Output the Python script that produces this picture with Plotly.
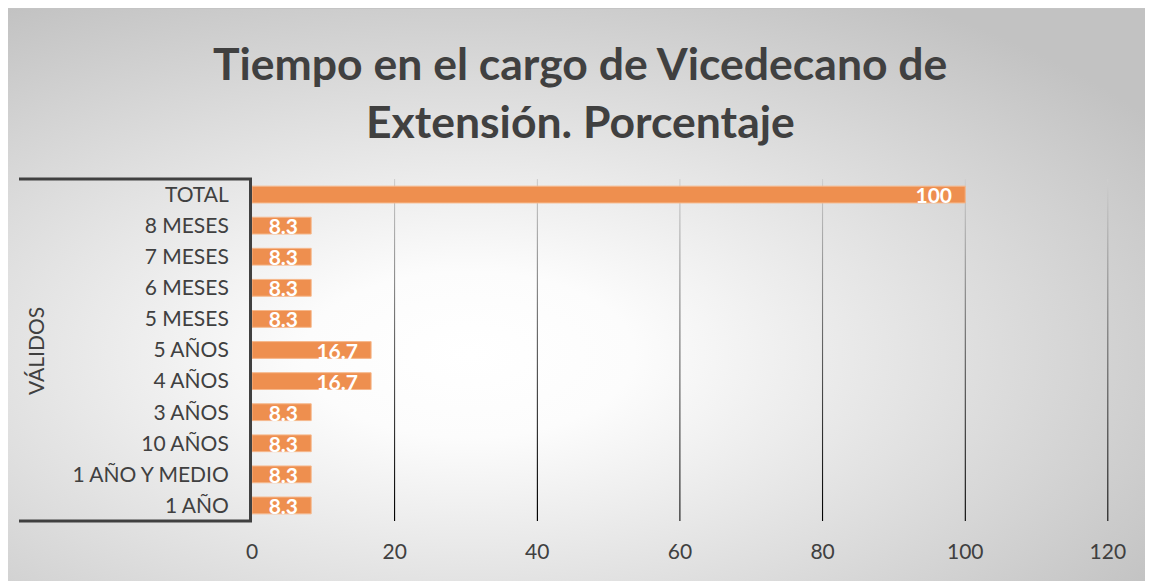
import base64
import plotly.graph_objects as go

# ---- data ----
categories = ["1 AÑO", "1 AÑO Y MEDIO", "10 AÑOS", "3 AÑOS", "4 AÑOS", "5 AÑOS",
              "5 MESES", "6 MESES", "7 MESES", "8 MESES", "TOTAL"]
values = [8.3, 8.3, 8.3, 8.3, 16.7, 16.7, 8.3, 8.3, 8.3, 8.3, 100]
value_labels = ["8.3", "8.3", "8.3", "8.3", "16.7", "16.7", "8.3", "8.3", "8.3", "8.3", "100"]
x_ticks = [0, 20, 40, 60, 80, 100, 120]
group_label = "VÁLIDOS"
title_lines = ["Tiempo en el cargo de Vicedecano de", "Extensión. Porcentaje"]

# ---- geometry (page offset of 8px from body margin) ----
OFF = 8
FW, FH = 1153 - OFF, 581 - OFF
L, T = 252 - OFF, 179 - OFF
B = FH - (521 - OFF)
XMAX = 121
PW = round(856 * XMAX / 120)
R = FW - L - PW
PH = FH - T - B

def px_x(px):
    return (px - OFF - L) / PW

def px_y(py):
    return (FH - B - (py - OFF)) / PH

TXT = "#404040"
FONT = "Lato"
EDGE = "#c4c4c4"

def svg_uri(svg):
    return "data:image/svg+xml;base64," + base64.b64encode(svg.encode()).decode()

bg_svg = (
    "<svg xmlns='http://www.w3.org/2000/svg' width='1148' height='572' viewBox='0 0 1148 572' "
    "preserveAspectRatio='none'><defs><radialGradient id='g' cx='0.40' cy='0.60' r='0.72'>"
    "<stop offset='0' stop-color='#ffffff'/><stop offset='0.2' stop-color='#fcfcfc'/>"
    "<stop offset='1' stop-color='#c2c2c2'/></radialGradient></defs>"
    "<rect width='1148' height='572' fill='url(#g)'/></svg>"
)
grid_svg = (
    "<svg xmlns='http://www.w3.org/2000/svg' width='4' height='200' viewBox='0 0 4 200' "
    "preserveAspectRatio='none'><defs><linearGradient id='l' x1='0' y1='0' x2='0' y2='1'>"
    "<stop offset='0' stop-color='#cfcfcf'/><stop offset='0.45' stop-color='#6a6a6a'/>"
    "<stop offset='1' stop-color='#000000'/></linearGradient></defs>"
    "<rect width='4' height='200' fill='url(#l)'/></svg>"
)

fig = go.Figure()
fig.add_trace(go.Bar(
    y=categories, x=values, orientation="h",
    marker=dict(color="#EE8F4F", line=dict(color="#F6B88C", width=1)),
    text=value_labels,
    texttemplate="%{text}\u00a0\u00a0",
    textposition="inside", insidetextanchor="end", constraintext="none",
    textfont=dict(family=FONT, size=21, color="white", weight="bold"),
    width=0.54, hoverinfo="skip",
))

images = [dict(
    source=svg_uri(bg_svg), xref="paper", yref="paper",
    x=px_x(OFF), y=px_y(9), sizex=px_x(1160) - px_x(OFF), sizey=px_y(9) - px_y(585),
    xanchor="left", yanchor="top", sizing="stretch", layer="below",
)]
for v in x_ticks[1:]:
    images.append(dict(
        source=svg_uri(grid_svg), xref="x", yref="y",
        x=v, y=len(categories) - 0.5, sizex=0.2, sizey=len(categories),
        xanchor="center", yanchor="top", sizing="stretch", layer="below",
    ))

shapes = [
    dict(type="line", xref="paper", yref="paper", x0=px_x(19), x1=0, y0=1, y1=1,
         line=dict(color="#404040", width=3)),
    dict(type="line", xref="paper", yref="paper", x0=px_x(19), x1=0, y0=0, y1=0,
         line=dict(color="#404040", width=3)),
]

annotations = [
    dict(text=group_label, textangle=-90, xref="paper", yref="paper",
         x=px_x(35), y=px_y(351), xanchor="center", yanchor="middle", showarrow=False,
         font=dict(family=FONT, size=21, color=TXT)),
    dict(text=title_lines[0], xref="paper", yref="paper", x=px_x(580), y=px_y(62),
         xanchor="center", yanchor="middle", showarrow=False,
         font=dict(family=FONT, size=44.5, color=TXT, weight="bold")),
    dict(text=title_lines[1], xref="paper", yref="paper", x=px_x(580), y=px_y(120),
         xanchor="center", yanchor="middle", showarrow=False,
         font=dict(family=FONT, size=44.5, color=TXT, weight="bold")),
]

fig.update_layout(
    width=FW, height=FH,
    margin=dict(l=L, r=R, t=T, b=B, pad=0),
    paper_bgcolor=EDGE, plot_bgcolor="rgba(0,0,0,0)",
    showlegend=False, images=images, shapes=shapes, annotations=annotations,
    font=dict(family=FONT, color=TXT),
    xaxis=dict(range=[0, XMAX], tickvals=x_ticks, showgrid=False, zeroline=False,
               showline=False, ticks="", ticklabelstandoff=16,
               tickfont=dict(family=FONT, size=21, color=TXT), fixedrange=True),
    yaxis=dict(categoryorder="array", categoryarray=categories, showgrid=False,
               zeroline=False, showline=True, linecolor="#404040", linewidth=3,
               ticks="", ticklabelstandoff=16,
               tickfont=dict(family=FONT, size=21, color=TXT), fixedrange=True),
)

fig.write_html("out.html")
